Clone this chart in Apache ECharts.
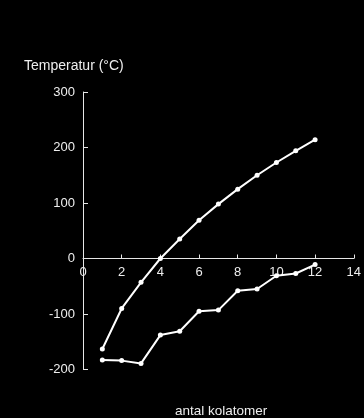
<!DOCTYPE html>
<html>
<head>
<meta charset="utf-8">
<script src="https://cdn.jsdelivr.net/npm/echarts@6/dist/echarts.min.js"></script>
<style>
html,body{margin:0;padding:0;background:#000;}
#chart{width:364px;height:418px;}
</style>
</head>
<body>
<div id="chart"></div>
<script>
const carbonCounts = [1, 2, 3, 4, 5, 6, 7, 8, 9, 10, 11, 12];
const boilingPoints = [-163, -90, -43, 0, 35, 69, 98, 125, 150, 173, 194, 214];
const meltingPoints = [-183, -184, -189, -138, -131, -95, -93, -58, -55, -31, -27, -11];
const yTitle = 'Temperatur (°C)';
const xTitle = 'antal kolatomer';

const toPairs = (xs, ys) => xs.map((x, i) => [x, ys[i]]);
const axisColor = '#e6e6e6';
const font = 'Liberation Sans, Arial, sans-serif';
const yMin = -200, yMax = 300;
const gridTop = 92, gridBottom = 48.5, chartH = 418;
const plotH = chartH - gridTop - gridBottom;
const zeroOffset = -plotH * (0 - yMin) / (yMax - yMin);

const chart = echarts.init(document.getElementById('chart'));
chart.setOption({
  backgroundColor: '#000',
  animation: false,
  grid: { left: 83, right: 4, top: gridTop, bottom: gridBottom, containLabel: false },
  title: [
    { text: yTitle, left: 24, top: 59, padding: 0, textStyle: { color: '#eee', fontSize: 14, fontWeight: 'normal', fontFamily: font } },
    { text: xTitle, left: 175, top: 404, padding: 0, textStyle: { color: '#eee', fontSize: 13.5, fontWeight: 'normal', fontFamily: font } }
  ],
  xAxis: {
    type: 'value', min: 0, max: 14, interval: 2,
    position: 'bottom', offset: zeroOffset,
    axisLine: { onZero: false, lineStyle: { color: axisColor, width: 1 } },
    axisTick: { show: true, inside: true, length: 4, lineStyle: { color: axisColor } },
    axisLabel: { color: '#eee', fontSize: 13, fontFamily: font, margin: 7 },
    splitLine: { show: false }
  },
  yAxis: {
    type: 'value', min: yMin, max: yMax, interval: 100,
    axisLine: { show: true, onZero: false, lineStyle: { color: axisColor, width: 1 } },
    axisTick: { show: true, inside: true, length: 5, lineStyle: { color: axisColor } },
    axisLabel: { color: '#eee', fontSize: 13, fontFamily: font, margin: 8 },
    splitLine: { show: false }
  },
  series: [
    {
      type: 'line', data: toPairs(carbonCounts, boilingPoints),
      symbol: 'circle', symbolSize: 5,
      lineStyle: { color: '#fff', width: 2 },
      itemStyle: { color: '#fff' }
    },
    {
      type: 'line', data: toPairs(carbonCounts, meltingPoints),
      symbol: 'circle', symbolSize: 5,
      lineStyle: { color: '#fff', width: 2 },
      itemStyle: { color: '#fff' }
    }
  ]
});
</script>
</body>
</html>
